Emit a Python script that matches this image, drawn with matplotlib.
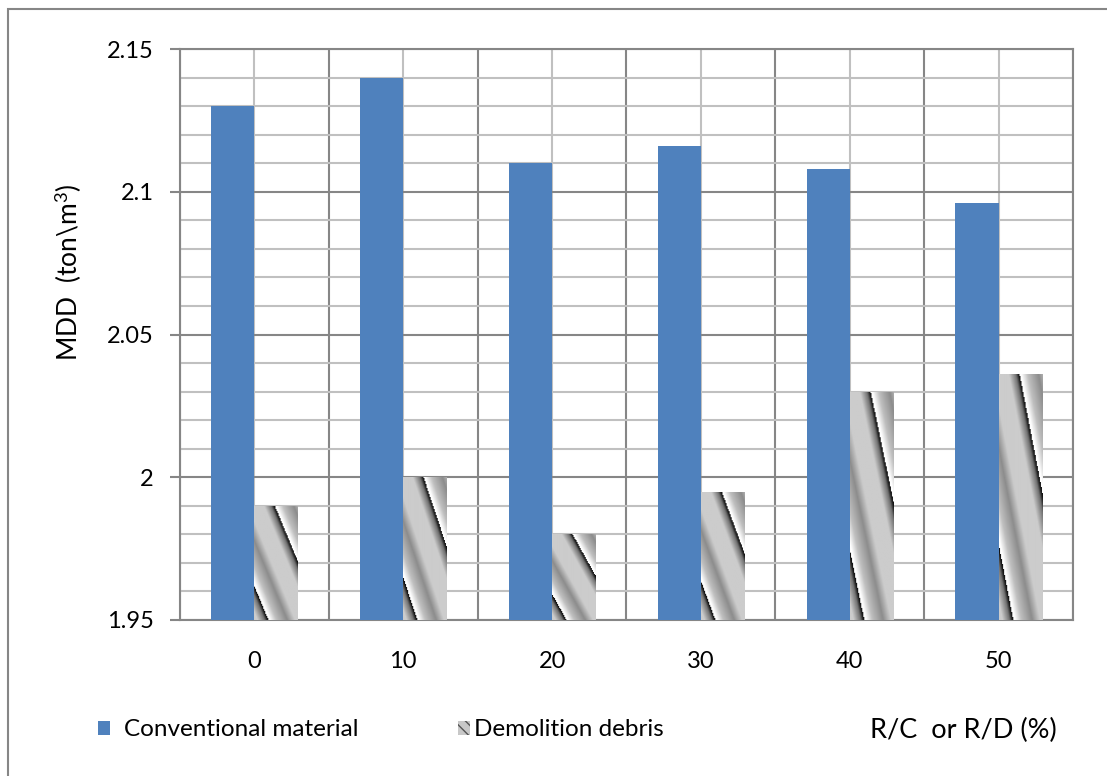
import numpy as np
import matplotlib
matplotlib.use("Agg")
import matplotlib.pyplot as plt
from matplotlib.patches import Patch, Rectangle
from matplotlib.ticker import MultipleLocator

# ----------------------------------------------------------------------
# data
# ----------------------------------------------------------------------
categories = ["0", "10", "20", "30", "40", "50"]
conventional = [2.130, 2.140, 2.110, 2.116, 2.108, 2.096]
demolition = [1.990, 2.000, 1.980, 1.995, 2.030, 2.036]
y_ticks = [1.95, 2.0, 2.05, 2.1, 2.15]
y_tick_labels = ["1.95", "2", "2.05", "2.1", "2.15"]

plt.rcParams["font.family"] = ["Lato", "DejaVu Sans"]
plt.rcParams["mathtext.fontset"] = "custom"
plt.rcParams["mathtext.rm"] = "Lato"
plt.rcParams["mathtext.it"] = "Lato:italic"

W, H = 1107, 776
DARK = "#868686"
LIGHT = "#c0c0c0"
BLUE = "#4F81BD"

fig = plt.figure(figsize=(W / 100, H / 100), dpi=100)
ax = fig.add_axes([180 / W, 1 - 620 / H, 893 / W, 571 / H])

x = np.arange(len(categories))
bw = 0.29
ymin, ymax = 1.95, 2.15

ax.bar(x - bw / 2, conventional, bw, color=BLUE, zorder=3)
demo_bars = ax.bar(x + bw / 2, demolition, bw, color="#cccccc", zorder=3)

# picture-fill style stripes, stretched over each bar (like Excel does)
px_x = 893 / len(categories)        # pixels per x unit
px_y = 571 / (ymax - ymin)          # pixels per y unit
prof_p = [0.0, 0.03, 0.15, 0.35, 0.50, 0.80, 0.93, 0.985, 1.0]
prof_v = [0.98, 1.0, 0.75, 0.55, 0.80, 0.80, 0.45, 0.08, 0.08]
for bar in demo_bars:
    x0, w = bar.get_x(), bar.get_width()
    top = bar.get_height()
    nx = max(int(round(w * px_x)), 2)
    ny = max(int(round((top - ymin) * px_y)), 2)
    u, v = np.meshgrid(np.linspace(0, 1, nx), np.linspace(0, 1, ny))
    phase = ((u - 1.1 * v - 0.47) / 1.25) % 1.0
    tex = np.interp(phase, prof_p, prof_v)
    im = ax.imshow(tex, cmap="gray", vmin=0, vmax=1, origin="upper",
                   extent=(x0, x0 + w, ymin, top), aspect="auto",
                   interpolation="bilinear", zorder=4)
    im.set_clip_path(bar)

ax.set_xlim(-0.5, len(categories) - 0.5)
ax.set_ylim(ymin, ymax)
ax.set_aspect("auto")

# ticks and grid
ax.set_xticks(x)
ax.set_xticklabels(categories)
ax.set_xticks(np.arange(len(categories) + 1) - 0.5, minor=True)
ax.set_yticks(y_ticks)
ax.set_yticklabels(y_tick_labels)
ax.yaxis.set_minor_locator(MultipleLocator(0.01))

ax.tick_params(axis="x", which="both", length=0, labelsize=17, pad=22)
ax.tick_params(axis="y", which="major", length=7, width=1.5, color=DARK,
               labelsize=17, pad=12)
ax.tick_params(axis="y", which="minor", length=0)

ax.xaxis.grid(True, which="major", color=LIGHT, lw=1.5)
ax.xaxis.grid(True, which="minor", color=DARK, lw=1.5)
ax.yaxis.grid(True, which="major", color=DARK, lw=1.5)
ax.yaxis.grid(True, which="minor", color=LIGHT, lw=1.5)
ax.set_axisbelow(True)

for s in ax.spines.values():
    s.set_color(DARK)
    s.set_linewidth(1.5)

fig.text(68 / W, 1 - 272 / H, r"MDD  (ton\m$^3$)", rotation=90,
         ha="center", va="center", fontsize=19)

# legend row along the bottom
h1 = Patch(facecolor=BLUE, edgecolor="none")
h2 = Patch(facecolor="#c8c8c8", edgecolor="#555555", hatch="\\\\\\", lw=0)
fig.legend([h1], ["Conventional material"], loc="center left",
           bbox_to_anchor=(98 / W, 1 - 730 / H), frameon=False, fontsize=17.5,
           handlelength=0.5, handleheight=0.5, handletextpad=0.55,
           borderpad=0, borderaxespad=0)
fig.legend([h2], ["Demolition debris"], loc="center left",
           bbox_to_anchor=(458 / W, 1 - 730 / H), frameon=False, fontsize=17.5,
           handlelength=0.5, handleheight=0.5, handletextpad=0.15,
           borderpad=0, borderaxespad=0)
fig.text(1057 / W, 1 - 730 / H, "R/C  or R/D (%)", ha="right", va="center",
         fontsize=19.5)

# outer chart frame
fig.patches.append(Rectangle((8 / W, -0.1), 1.2, 1 - 9 / H + 0.1,
                             transform=fig.transFigure, fill=False,
                             edgecolor=DARK, lw=1.5))

fig.savefig("out.png", dpi=100)
